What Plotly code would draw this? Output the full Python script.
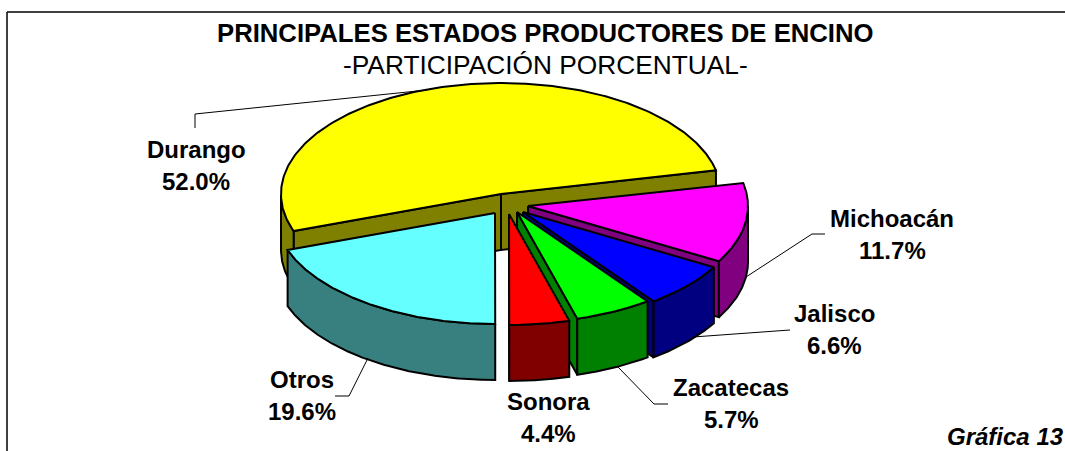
import numpy as np
import plotly.graph_objects as go

# ---- data ----
states = ["Durango", "Michoacán", "Jalisco", "Zacatecas", "Sonora", "Otros"]
shares = [52.0, 11.7, 6.6, 5.7, 4.4, 19.6]
title_main = "PRINCIPALES ESTADOS PRODUCTORES DE ENCINO"
title_sub = "-PARTICIPACIÓN PORCENTUAL-"
source_tag = "Gráfica 13"

# ---- styling / projection ----
top_colors = ["#FFFF00", "#FF00FF", "#0000FF", "#00FF00", "#FF0000", "#66FFFF"]
wall_colors = ["#808000", "#800080", "#000080", "#008000", "#800000", "#388080"]
apex = [(501, 194), (528, 206), (523, 212), (517, 212), (509, 214), (495, 213)]
label_pos = [(196, 165), (892, 234), (834, 329), (731, 403), (548, 417), (302, 395)]
RX, RY, DEPTH = 220, 111, 56
START_DEG = 199.5
LEADERS = [
    [(195, 128), (195, 114), (427, 90)],
    [(746, 277), (812, 234), (825, 234)],
    [(693, 337), (790, 330)],
    [(618, 367), (654, 404), (668, 404)],
    [(368, 358), (349, 396), (335, 396)],
]
LABEL_FONT = dict(family="Liberation Sans", size=24, color="black")

fig = go.Figure()


def poly(xs, ys, color, width=2):
    fig.add_trace(go.Scatter(
        x=list(xs) + [xs[0]], y=list(ys) + [ys[0]], mode="lines", fill="toself",
        fillcolor=color, line=dict(color="black", width=width),
        hoverinfo="skip", showlegend=False))


angle = START_DEG
for share, (cx, cy), top, wall in zip(shares, apex, top_colors, wall_colors):
    a0, a1 = angle, angle - share * 3.6
    angle = a1
    th = np.radians(np.linspace(a0, a1, 240))
    ax = cx + RX * np.cos(th)
    ay = cy - RY * np.sin(th)
    # radial walls that face the viewer
    for a, px, py in ((a0, ax[0], ay[0]), (a1, ax[-1], ay[-1])):
        c = np.cos(np.radians(a))
        if (a == a0 and c < 0) or (a == a1 and c > 0):
            poly([cx, px, px, cx], [cy, py, py + DEPTH, cy + DEPTH], wall)
    # outer wall (front half of the rim only)
    vis = np.sin(th) <= 1e-9
    if vis.any():
        vx, vy = ax[vis], ay[vis]
        poly(list(vx) + list(vx[::-1]), list(vy) + list(vy[::-1] + DEPTH), wall)
    # top face
    poly([cx] + list(ax), [cy] + list(ay), top)

# leader lines
for pts in LEADERS:
    fig.add_trace(go.Scatter(x=[p[0] for p in pts], y=[p[1] for p in pts], mode="lines",
                             line=dict(color="black", width=1), hoverinfo="skip", showlegend=False))

ann = [
    dict(x=545, y=33, text=f"<b>{title_main}</b>", font=dict(family="Liberation Sans", size=25.7, color="black")),
    dict(x=545, y=65, text=title_sub, font=dict(family="Liberation Sans", size=26.3, color="black")),
    dict(x=1063, y=436, xshift=3, text=f"<b><i>{source_tag}</i></b>", xanchor="right",
         font=dict(family="Liberation Sans", size=24, color="black")),
]
for name, share, (lx, ly) in zip(states, shares, label_pos):
    ann.append(dict(x=lx, y=ly - 16, text=f"<b>{name}</b>", font=LABEL_FONT))
    ann.append(dict(x=lx, y=ly + 16, text=f"<b>{share:.1f}%</b>", font=LABEL_FONT))
for a in ann:
    a.update(xref="x", yref="y", showarrow=False, yanchor="middle")
    a.setdefault("xanchor", "center")

fig.update_layout(
    width=1065, height=451, margin=dict(l=0, r=0, t=0, b=0),
    paper_bgcolor="white", plot_bgcolor="white", showlegend=False, annotations=ann,
    xaxis=dict(range=[0, 1065], visible=False, fixedrange=True),
    yaxis=dict(range=[451, 0], visible=False, fixedrange=True),
    shapes=[
        dict(type="line", xref="x", yref="y", x0=7, y0=12, x1=1065, y1=12, line=dict(color="black", width=1.5)),
        dict(type="line", xref="x", yref="y", x0=7, y0=12, x1=7, y1=451, line=dict(color="black", width=1.5)),
    ],
)
fig.write_html("out.html", config=dict(displayModeBar=False),
               post_script="document.body.style.margin='0';document.body.style.overflow='hidden';")
